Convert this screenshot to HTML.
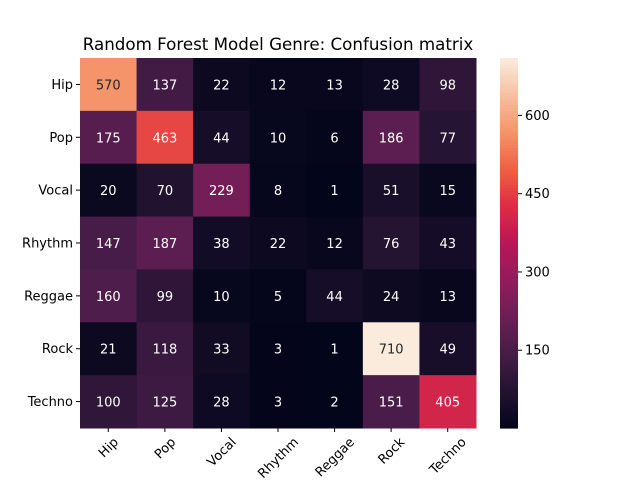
<!DOCTYPE html>
<html><head><meta charset="utf-8">
<style>
body{margin:0;background:#fff;font-family:"Liberation Sans","DejaVu Sans",sans-serif;}
svg text{font-family:"DejaVu Sans","Liberation Sans",sans-serif;}
</style></head>
<body>
<svg id="chart" width="640" height="480" xmlns="http://www.w3.org/2000/svg">
<text x="278" y="50" text-anchor="middle" font-size="16.7" fill="#000">Random Forest Model Genre: Confusion matrix</text>
<g id="cells"></g>
<g id="cbar"></g>
</svg>
<script>
const labels = ["Hip","Pop","Vocal","Rhythm","Reggae","Rock","Techno"];
const row0 = [570,137,22,12,13,28,98];
const row1 = [175,463,44,10,6,186,77];
const row2 = [20,70,229,8,1,51,15];
const row3 = [147,187,38,22,12,76,43];
const row4 = [160,99,10,5,44,24,13];
const row5 = [21,118,33,3,1,710,49];
const row6 = [100,125,28,3,2,151,405];
const matrix = [row0,row1,row2,row3,row4,row5,row6];
const cbarTicks = [150,300,450,600];

const NS="http://www.w3.org/2000/svg";
const L=80,R=476,T=58,B=428;
const all=matrix.flat();
const vmin=Math.min(...all), vmax=Math.max(...all);
const cw=(R-L)/labels.length, ch=(B-T)/labels.length;
const xPos=i=>L+i*cw, yPos=i=>T+i*ch;
const stops=[[3,5,26],[34,19,49],[69,28,71],[106,31,86],[146,28,91],[185,22,87],[221,44,69],[240,96,67],[245,147,106],[246,191,160],[250,235,221]];
function cmap(v){let t=(v-vmin)/(vmax-vmin);t=Math.max(0,Math.min(1,t))*10;const i=Math.min(9,Math.floor(t)),f=t-i;const a=stops[i],b=stops[i+1];return a.map((c,k)=>Math.round(c+(b[k]-c)*f));}
function lum(c){const l=c.map(x=>{x/=255;return x<=0.03928?x/12.92:Math.pow((x+0.055)/1.055,2.4);});return 0.2126*l[0]+0.7152*l[1]+0.0722*l[2];}
function mk(tag,attrs,parent,txt){const e=document.createElementNS(NS,tag);for(const k in attrs)e.setAttribute(k,attrs[k]);if(txt!==undefined)e.textContent=txt;parent.appendChild(e);return e;}
const g=document.getElementById('cells');
matrix.forEach((row,r)=>row.forEach((v,c)=>{
  const col=cmap(v);
  const rect=mk('rect',{x:xPos(c),y:yPos(r),width:cw+0.5,height:ch+0.5,fill:`rgb(${col})`},g);
  
  
  const t=mk('text',{x:xPos(c)+cw/2,y:yPos(r)+ch/2+5,'text-anchor':'middle','font-size':'13',fill:lum(col)>0.408?'#262626':'#fff'},g,v);
  
  
}));
const svg=document.getElementById('chart');
labels.forEach((lab,i)=>{
  const y=yPos(i)+ch/2;
  mk('line',{x1:L-4,x2:L,y1:y,y2:y,stroke:'#000'},svg);
  const t=mk('text',{x:L-7,y:y+4.5,'text-anchor':'end','font-size':'13',fill:'#000'},svg,lab);
  
  
  const x=xPos(i)+cw/2;
  mk('line',{x1:x,x2:x,y1:B,y2:B+4,stroke:'#000'},svg);
  const t2=mk('text',{x:0,y:0,'text-anchor':'middle','font-size':'13',fill:'#000'},svg,lab);
  
  
  const w=t2.getComputedTextLength(), h=13;
  const bb=(w+h)*0.7071;
  const cy0=B+7+bb/2;
  t2.setAttribute('x',x);t2.setAttribute('y',cy0+4.5);
  t2.setAttribute('transform',`rotate(-45 ${x} ${cy0})`);
});
const cb=document.getElementById('cbar');
const cx=500,cwid=18;
const cy=v=>B-(v-vmin)/(vmax-vmin)*(B-T);
for(let k=0;k<120;k++){const v0=vmin+(vmax-vmin)*k/120,v1=vmin+(vmax-vmin)*(k+1)/120;
  mk('rect',{x:cx,y:cy(v1),width:cwid,height:cy(v0)-cy(v1)+0.6,fill:`rgb(${cmap((v0+v1)/2)})`},cb);}
cbarTicks.forEach(v=>{const y=cy(v);
  mk('line',{x1:cx+cwid,x2:cx+cwid+4,y1:y,y2:y,stroke:'#000'},cb);
  const t=mk('text',{x:cx+cwid+7,y:y+4.5,'font-size':'13',fill:'#000'},cb,v);
  
  
});
</script>
</body></html>
